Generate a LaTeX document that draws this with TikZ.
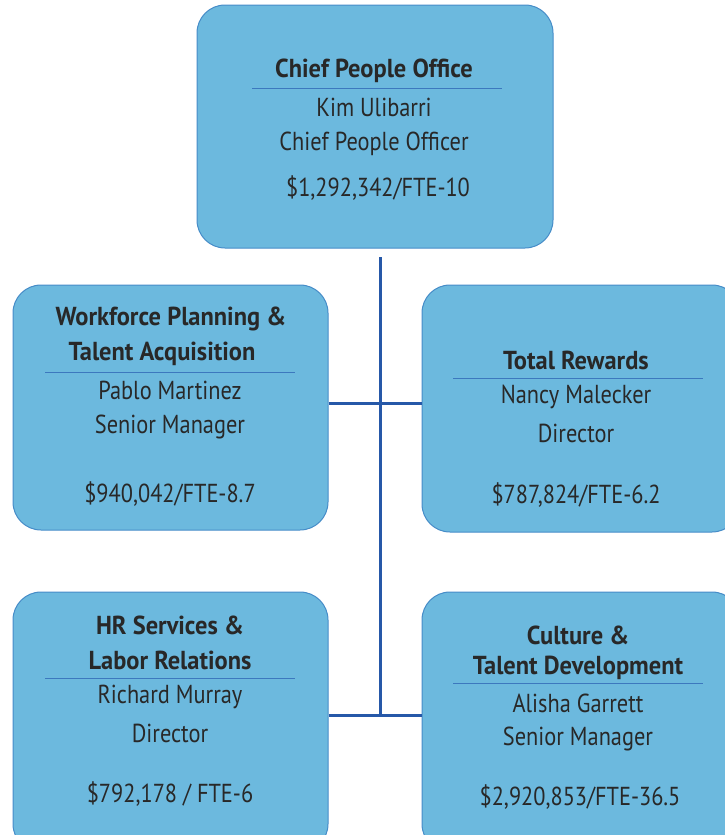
\documentclass[tikz,border=0pt]{standalone}
\usepackage{fontspec}
\setmainfont{PT Sans}[FakeStretch=0.86, BoldFeatures={FakeStretch=0.94}]
\definecolor{boxfill}{RGB}{108,185,222}
\definecolor{boxedge}{RGB}{70,140,200}
\definecolor{conn}{RGB}{38,88,168}
\definecolor{rulec}{RGB}{60,120,190}
\definecolor{txt}{RGB}{40,40,40}
\tikzset{
  unitbox/.style={draw=boxedge, line width=1pt, fill=boxfill, rounded corners=28pt, inner sep=0pt},
  ttl/.style={font=\fontsize{26}{30}\selectfont\bfseries, text=txt, inner sep=0pt},
  ln/.style={font=\fontsize{26}{30}\selectfont, text=txt, inner sep=0pt},
  sep/.style={draw=rulec, line width=1pt},
  link/.style={draw=conn, line width=3pt}
}
\begin{document}
\begin{tikzpicture}[x=1pt,y=-1pt]
\useasboundingbox (0,0) rectangle (724,835);
% boxes
\node[unitbox, minimum width=356pt, minimum height=243pt] (cpo) at (375,126.5) {};
\node[unitbox, minimum width=315pt, minimum height=245pt] (wp) at (170.5,407.5) {};
\node[unitbox, minimum width=318pt, minimum height=247pt] (tr) at (581,408.5) {};
\node[unitbox, minimum width=315pt, minimum height=260pt] (hr) at (170.5,722) {};
\node[unitbox, minimum width=318pt, minimum height=260pt] (cd) at (581,722) {};
% connectors
\coordinate (top) at (380,257);
\coordinate (j1) at (380,403);
\coordinate (j2) at (380,715);
\draw[link] (top) -- (j2);
\draw[link] (wp.east |- j1) -- (tr.west |- j1);
\draw[link] (hr.east |- j2) -- (cd.west |- j2);
% Chief People Office
\node[ttl] (cpo-t) at (374,71) {Chief People Office};
\coordinate (cpo-a) at (252,88); \coordinate (cpo-b) at (502,88);
\draw[sep] (cpo-a) -- (cpo-b);
\node[ln] (cpo-1) at (374,107) {Kim Ulibarri};
\node[ln] (cpo-2) at (374,144) {Chief People Officer};
\node[ln] (cpo-3) at (378,188) {\$1,292,342/FTE-10};
% Workforce Planning
\node[ttl] (wp-t1) at (171,319) {Workforce Planning \&};
\node[ttl] (wp-t2) at (162,354) {Talent Acquisition};
\coordinate (wp-a) at (45,372); \coordinate (wp-b) at (295,372);
\draw[sep] (wp-a) -- (wp-b);
\node[ln] (wp-1) at (170,390) {Pablo Martinez};
\node[ln] (wp-2) at (170,427) {Senior Manager};
\node[ln] (wp-3) at (170,494) {\$940,042/FTE-8.7};
% Total Rewards
\node[ttl] (tr-t) at (576,360) {Total Rewards};
\coordinate (tr-a) at (453,378); \coordinate (tr-b) at (703,378);
\draw[sep] (tr-a) -- (tr-b);
\node[ln] (tr-1) at (576,397) {Nancy Malecker};
\node[ln] (tr-2) at (576,433) {Director};
\node[ln] (tr-3) at (576,495) {\$787,824/FTE-6.2};
% HR Services
\node[ttl] (hr-t1) at (170,625) {HR Services \&};
\node[ttl] (hr-t2) at (170,660) {Labor Relations};
\coordinate (hr-a) at (45,678); \coordinate (hr-b) at (295,678);
\draw[sep] (hr-a) -- (hr-b);
\node[ln] (hr-1) at (170,697) {Richard Murray};
\node[ln] (hr-2) at (170,733) {Director};
\node[ln] (hr-3) at (170,794) {\$792,178 / FTE-6};
% Culture
\node[ttl] (cd-t1) at (578,635) {Culture \&};
\node[ttl] (cd-t2) at (578,668) {Talent Development};
\coordinate (cd-a) at (453,683); \coordinate (cd-b) at (703,683);
\draw[sep] (cd-a) -- (cd-b);
\node[ln] (cd-1) at (578,703) {Alisha Garrett};
\node[ln] (cd-2) at (578,739) {Senior Manager};
\node[ln] (cd-3) at (580,797) {\$2,920,853/FTE-36.5};
\end{tikzpicture}
\end{document}
